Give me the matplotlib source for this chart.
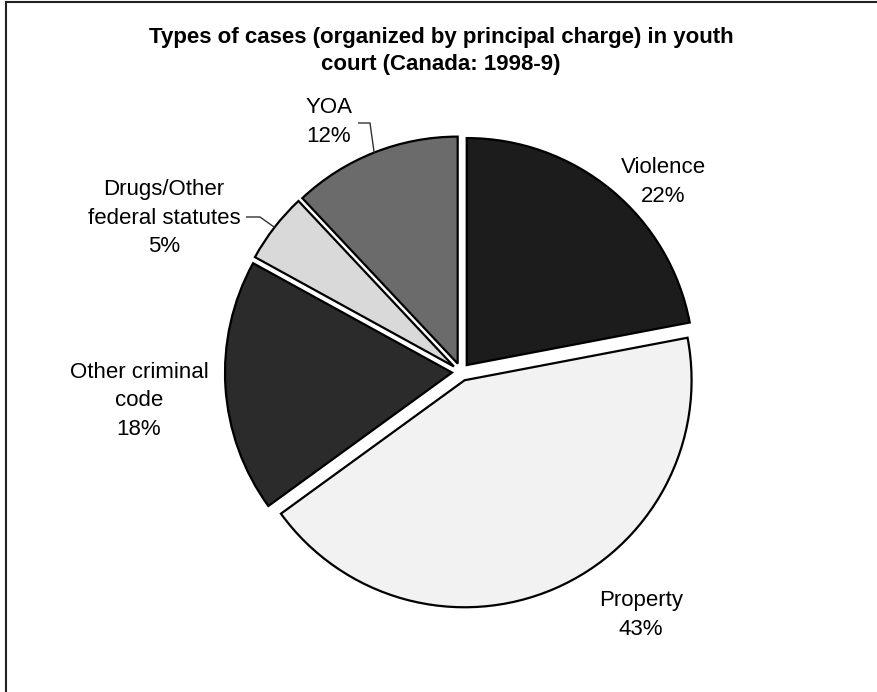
import numpy as np
import matplotlib.pyplot as plt

plt.rcParams['font.family'] = ['Liberation Sans', 'DejaVu Sans']

# data
categories = ['Violence', 'Property', 'Other criminal\ncode',
              'Drugs/Other\nfederal statutes', 'YOA']
shares = [22, 43, 18, 5, 12]
colors = ['#1c1c1c', '#f2f2f2', '#2b2b2b', '#d9d9d9', '#6b6b6b']

W, H = 877, 692

def fy(y):
    # pixel row -> data y
    return H - y

fig = plt.figure(figsize=(W / 100, H / 100), dpi=100)
ax = fig.add_axes([0, 0, 1, 1])

cx, cy, r = 461, fy(372), 227
expl = 9  # pie explode works in data units here (1 unit = 1 px)
wedges, _ = ax.pie(shares, colors=colors, startangle=90, counterclock=False,
                   radius=r, center=(cx, cy), explode=[expl] * len(shares),
                   wedgeprops=dict(edgecolor='black', linewidth=1.6))
ax.set_xlim(0, W)
ax.set_ylim(0, H)
ax.axis('off')

# labels
lab_pos = [(663, 182), (641, 615), (139, 401), (164, 218), (329, 122)]
for name, s, (x, y) in zip(categories, shares, lab_pos):
    ax.text(x, fy(y), f'{name}\n{s}%', ha='center', va='center',
            fontsize=16, linespacing=1.45, color='black')

# leader lines for the small slices (Drugs, YOA)
def arc_point(w):
    mid = np.deg2rad((w.theta1 + w.theta2) / 2)
    x0, y0 = w.center
    return x0 + r * np.cos(mid), y0 + r * np.sin(mid)

leaders = [(3, 246, 260, 217), (4, 358, 370, 123)]
for idx, xa, xb, y in leaders:
    px, py_ = arc_point(wedges[idx])
    ax.plot([xa, xb, px], [fy(y), fy(y), py_], color='#333333', lw=1.0,
            solid_capstyle='butt')

ax.text(441, fy(51), 'Types of cases (organized by principal charge) in youth\n'
        'court (Canada: 1998-9)', ha='center', va='center', fontsize=16,
        fontweight='bold', linespacing=1.4)

# chart frame (only left and top edges fall inside the image)
ax.plot([5.5, 5.5], [0, fy(1.5)], color='#222222', lw=1.5, clip_on=False)
ax.plot([5.5, W], [fy(1.5), fy(1.5)], color='#222222', lw=1.5, clip_on=False)

fig.savefig('out.png', dpi=100)
